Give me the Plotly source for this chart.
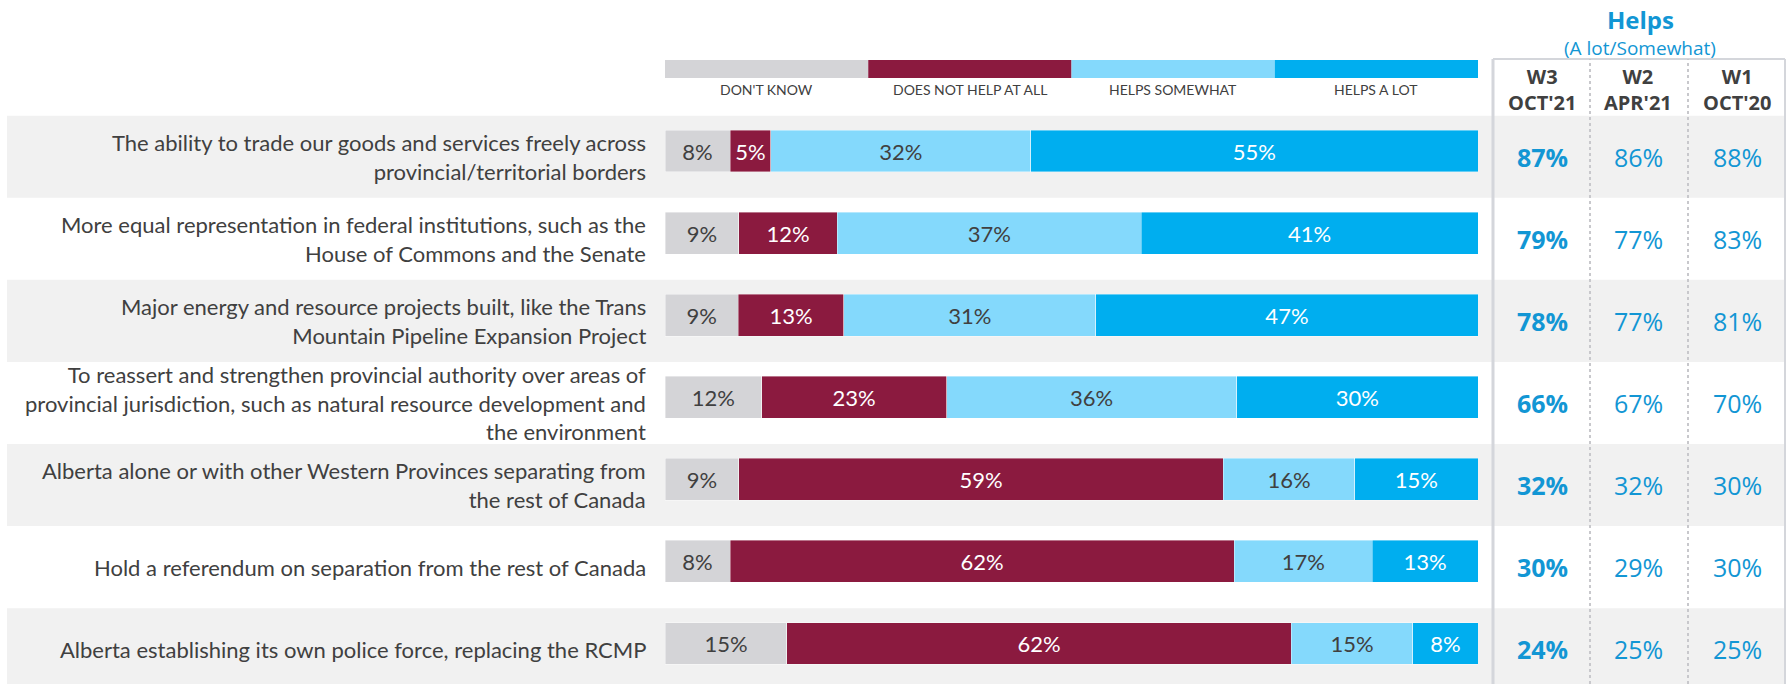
import plotly.graph_objects as go

categories = [
    "The ability to trade our goods and services freely across<br>provincial/territorial borders",
    "More equal representation in federal institutions, such as the<br>House of Commons and the Senate",
    "Major energy and resource projects built, like the Trans<br>Mountain Pipeline Expansion Project",
    "To reassert and strengthen provincial authority over areas of<br>provincial jurisdiction, such as natural resource development and<br>the environment",
    "Alberta alone or with other Western Provinces separating from<br>the rest of Canada",
    "Hold a referendum on separation from the rest of Canada",
    "Alberta establishing its own police force, replacing the RCMP",
]
dont_know = [8, 9, 9, 12, 9, 8, 15]
not_help = [5, 12, 13, 23, 59, 62, 62]
helps_somewhat = [32, 37, 31, 36, 16, 17, 15]
helps_a_lot = [55, 41, 47, 30, 15, 13, 8]

series_names = ["DON'T KNOW", "DOES NOT HELP AT ALL", "HELPS SOMEWHAT", "HELPS A LOT"]
series_values = [dont_know, not_help, helps_somewhat, helps_a_lot]
series_colors = ["#D4D4D7", "#8B1A3F", "#84D9FC", "#00AEEF"]
series_text_colors = ["#404040", "#FFFFFF", "#404040", "#FFFFFF"]

wave_labels = ["W3<br>OCT'21", "W2<br>APR'21", "W1<br>OCT'20"]
w3_oct21 = [87, 79, 78, 66, 32, 30, 24]
w2_apr21 = [86, 77, 77, 67, 32, 29, 25]
w1_oct20 = [88, 83, 81, 70, 30, 30, 25]
wave_values = [w3_oct21, w2_apr21, w1_oct20]

W, H = 1789, 684
BLUE = "#1296D4"
DARK = "#404040"
LABEL_FONT = "Lato"
NUM_FONT = "Open Sans"

def px_x(p):
    return p / W

def px_y(p):
    return 1 - p / H

n = len(categories)
rows = list(range(n))

fig = go.Figure()
for name, vals, col, tcol in zip(series_names, series_values, series_colors, series_text_colors):
    fig.add_trace(go.Bar(
        y=rows, x=vals, orientation="h", name=name,
        marker=dict(color=col, line=dict(color="rgba(255,255,255,0.5)", width=0.8)),
        width=0.51,
        text=[f"{v}%" for v in vals], textposition="inside", insidetextanchor="middle",
        textfont=dict(family=LABEL_FONT, size=22, color=tcol),
        hoverinfo="skip", showlegend=False,
    ))

shapes = []
annotations = []
off = 0.07
# row bands
for i in rows:
    if i % 2 == 0:
        shapes.append(dict(type="rect", xref="paper", yref="y", x0=px_x(7), x1=px_x(1785),
                           y0=i - 0.5 + off, y1=i + 0.5 + off, fillcolor="#F1F1F1",
                           line=dict(width=0), layer="below"))
# row labels
for i, c in zip(rows, categories):
    annotations.append(dict(xref="paper", yref="y", x=px_x(648), y=i + off, text=c,
                            xanchor="right", yanchor="middle", align="right", showarrow=False,
                            font=dict(family=LABEL_FONT, size=22, color=DARK)))
# legend swatches
for k, (name, col) in enumerate(zip(series_names, series_colors)):
    x0 = k * 100 / len(series_names)
    x1 = (k + 1) * 100 / len(series_names)
    shapes.append(dict(type="rect", xref="x", yref="paper", x0=x0, x1=x1,
                       y0=px_y(78), y1=px_y(60), fillcolor=col, line=dict(width=0)))
    annotations.append(dict(xref="x", yref="paper", x=(x0 + x1) / 2, y=px_y(90), text=name,
                            showarrow=False, xanchor="center", yanchor="middle",
                            font=dict(family=LABEL_FONT, size=14, color=DARK)))

# table
col_centers = [1542, 1638, 1737]
annotations.append(dict(xref="paper", yref="paper", x=px_x(1640), y=px_y(19), text="<b>Helps</b>",
                        xanchor="center", yanchor="middle",
                        showarrow=False, font=dict(family=NUM_FONT, size=24, color=BLUE)))
annotations.append(dict(xref="paper", yref="paper", x=px_x(1640), y=px_y(48), text="(A lot/Somewhat)",
                        xanchor="center", yanchor="middle",
                        showarrow=False, font=dict(family=NUM_FONT, size=19, color=BLUE)))
for j, (lab, vals, cx) in enumerate(zip(wave_labels, wave_values, col_centers)):
    annotations.append(dict(xref="paper", yref="paper", x=px_x(cx), y=px_y(90), text=f"<b>{lab}</b>",
                            xanchor="center", yanchor="middle",
                            showarrow=False, font=dict(family=NUM_FONT, size=20, color=DARK)))
    for i, v in zip(rows, vals):
        t = f"<b>{v}%</b>" if j == 0 else f"{v}%"
        annotations.append(dict(xref="paper", yref="y", x=px_x(cx), y=i + off, text=t,
                                xanchor="center", yanchor="middle",
                                showarrow=False, font=dict(family=NUM_FONT, size=25, color=BLUE)))

line_col = "#D4D6DB"
shapes += [
    dict(type="line", xref="paper", yref="paper", x0=px_x(1493), x1=px_x(1493), y0=0, y1=px_y(59),
         line=dict(color=line_col, width=3)),
    dict(type="line", xref="paper", yref="paper", x0=px_x(1785), x1=px_x(1785), y0=0, y1=px_y(59),
         line=dict(color=line_col, width=2)),
    dict(type="line", xref="paper", yref="paper", x0=px_x(1493), x1=px_x(1785), y0=px_y(59), y1=px_y(59),
         line=dict(color=line_col, width=2)),
    dict(type="line", xref="paper", yref="paper", x0=px_x(1590), x1=px_x(1590), y0=0, y1=px_y(59),
         line=dict(color="#C8C8CC", width=2, dash="dot")),
    dict(type="line", xref="paper", yref="paper", x0=px_x(1688), x1=px_x(1688), y0=0, y1=px_y(59),
         line=dict(color="#C8C8CC", width=2, dash="dot")),
]

fig.update_layout(
    width=W, height=H, barmode="stack", barnorm="percent",
    margin=dict(l=0, r=0, t=0, b=0),
    paper_bgcolor="white", plot_bgcolor="rgba(0,0,0,0)",
    xaxis=dict(domain=[px_x(665), px_x(1478)], range=[0, 100], visible=False, fixedrange=True),
    yaxis=dict(domain=[0, 1], range=[6 + (H - 643.5) / 82.08, -151 / 82.08], visible=False,
               fixedrange=True),
    shapes=shapes, annotations=annotations,
    uniformtext=dict(minsize=22, mode="show"),
)

fig.write_html("out.html", config={"displayModeBar": False},
               post_script="document.body.style.margin='0';document.body.style.overflow='hidden';")
